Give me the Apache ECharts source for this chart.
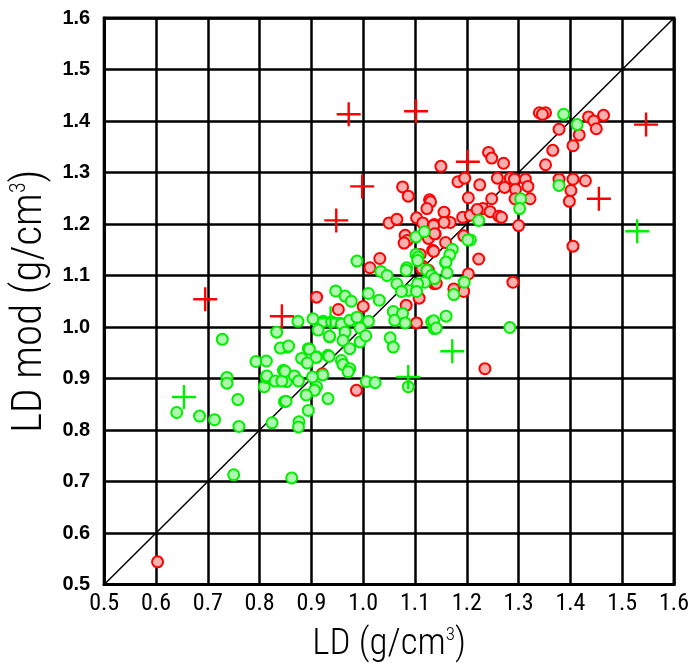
<!DOCTYPE html>
<html>
<head>
<meta charset="utf-8">
<script src="https://cdn.jsdelivr.net/npm/echarts@6/dist/echarts.min.js"></script>
<style>
  html, body { margin: 0; padding: 0; background: #fff; }
  #chart { width: 695px; height: 668px; }
</style>
</head>
<body>
<div id="chart"></div>
<script>
const AXIS_MIN = 0.5;
const AXIS_MAX = 1.6;
const TICK_STEP = 0.1;

const oneToOne = [[0.5, 0.5], [1.6, 1.6]];

const redCircles = [
    [0.603, 0.544],
    [0.910, 1.058], [0.952, 1.034], [1.000, 1.040], [0.921, 0.909], [0.987, 0.877],
    [1.013, 1.115], [1.032, 1.133],
    [1.083, 1.042], [1.108, 1.056], [1.103, 1.008], [1.115, 1.118], [1.137, 1.084],
    [1.050, 1.202], [1.065, 1.209], [1.076, 1.272], [1.087, 1.254], [1.103, 1.212],
    [1.115, 1.202], [1.137, 1.199], [1.128, 1.247], [1.130, 1.243], [1.123, 1.230],
    [1.081, 1.178], [1.085, 1.168], [1.079, 1.163], [1.126, 1.172], [1.139, 1.181],
    [1.134, 1.149], [1.110, 1.141], [1.113, 1.114], [1.126, 1.110], [1.139, 1.085],
    [1.150, 1.312], [1.183, 1.282], [1.196, 1.289], [1.225, 1.276], [1.259, 1.289],
    [1.273, 1.271], [1.284, 1.289], [1.292, 1.287], [1.313, 1.287], [1.318, 1.273],
    [1.294, 1.267], [1.293, 1.249], [1.322, 1.249],
    [1.242, 1.339], [1.248, 1.328], [1.271, 1.318],
    [1.340, 1.416], [1.352, 1.416], [1.346, 1.413], [1.435, 1.408], [1.445, 1.400],
    [1.464, 1.411], [1.450, 1.385], [1.378, 1.384], [1.417, 1.373], [1.405, 1.352],
    [1.366, 1.343], [1.352, 1.315],
    [1.378, 1.287], [1.405, 1.287], [1.429, 1.284], [1.401, 1.265], [1.398, 1.244],
    [1.203, 1.251], [1.248, 1.249], [1.231, 1.230], [1.245, 1.224], [1.262, 1.215],
    [1.267, 1.213], [1.192, 1.213], [1.207, 1.217], [1.156, 1.223], [1.168, 1.203],
    [1.156, 1.203], [1.136, 1.197], [1.138, 1.181], [1.159, 1.164], [1.194, 1.177],
    [1.136, 1.147], [1.223, 1.132], [1.300, 1.197], [1.405, 1.157], [1.220, 1.228],
    [1.203, 1.103], [1.289, 1.087], [1.194, 1.069], [1.175, 1.074], [1.141, 1.085],
    [1.235, 0.919]
];

const greenCircles = [
    [1.387, 1.413], [1.413, 1.393], [1.378, 1.275], [1.304, 1.249], [1.302, 1.230],
    [1.223, 1.207], [1.207, 1.169], [1.202, 1.169], [1.172, 1.151], [1.167, 1.140],
    [1.159, 1.125], [1.102, 1.175], [1.118, 1.185], [1.102, 1.141], [1.106, 1.136],
    [0.988, 1.128], [1.084, 1.115],
    [1.034, 1.108], [1.046, 1.100], [1.083, 1.110], [1.105, 1.129], [1.123, 1.110],
    [1.132, 1.100], [1.119, 1.087], [1.105, 1.084], [1.087, 1.071], [1.065, 1.084],
    [1.074, 1.069], [1.103, 1.069],
    [0.947, 1.070], [0.965, 1.060], [0.977, 1.050], [1.010, 1.065], [1.031, 1.052],
    [1.058, 1.030], [1.061, 1.013], [1.076, 1.026], [1.081, 1.008], [1.132, 1.010],
    [1.137, 0.997], [1.052, 0.979], [1.058, 0.961],
    [0.874, 1.011], [0.903, 1.016], [0.923, 1.011], [0.939, 1.010], [0.958, 1.006],
    [0.974, 1.013], [0.988, 1.019], [1.010, 1.011], [0.913, 0.994], [0.935, 0.981],
    [0.965, 0.990], [0.961, 0.974], [0.994, 0.998], [0.994, 0.971], [1.005, 0.983],
    [0.974, 0.958], [0.853, 0.961], [0.894, 0.958], [0.881, 0.939], [0.910, 0.942],
    [0.932, 0.945], [0.958, 0.935], [0.961, 0.927], [0.974, 0.919], [0.971, 0.913],
    [0.846, 0.916], [0.868, 0.903], [0.852, 0.894], [0.910, 0.884], [0.906, 0.877],
    [0.890, 0.868], [0.932, 0.861], [0.848, 0.855], [1.006, 0.894], [1.023, 0.892],
    [1.087, 0.884],
    [1.160, 1.126], [1.162, 1.105], [1.138, 1.094], [1.195, 1.087], [1.175, 1.063],
    [1.160, 1.021], [1.136, 1.012], [1.141, 0.998], [1.283, 0.999],
    [0.728, 0.976], [0.737, 0.902], [0.737, 0.891], [0.758, 0.859], [0.640, 0.834],
    [0.684, 0.827], [0.713, 0.820], [0.760, 0.807], [0.750, 0.713], [0.833, 0.990],
    [0.840, 0.959], [0.793, 0.933], [0.813, 0.934], [0.809, 0.884], [0.813, 0.902],
    [0.824, 0.814], [0.856, 0.963],
    [0.814, 0.905], [0.830, 0.895], [0.843, 0.895], [0.849, 0.914], [0.867, 0.905],
    [0.875, 0.895], [0.851, 0.856], [0.876, 0.816], [0.875, 0.806], [0.894, 0.838],
    [0.862, 0.707], [0.896, 0.957], [0.909, 0.941], [0.892, 0.930], [0.934, 0.943],
    [0.935, 0.982], [0.922, 0.907], [0.902, 0.903]
];

const redPlus = [
    [0.972, 1.413], [1.102, 1.419], [0.998, 1.273], [0.948, 1.207], [1.202, 1.321],
    [0.695, 1.054], [0.843, 1.021], [1.546, 1.393], [1.455, 1.249]
];

const greenPlus = [
    [1.529, 1.186], [1.172, 0.953], [1.087, 0.903], [0.654, 0.864], [0.937, 1.017]
];

const PLUS_PATH = 'path://M9,0 h2 v9 h9 v2 h-9 v9 h-2 v-9 h-9 v-2 h9 z';
const CONDENSED = "'Roboto Condensed', 'Liberation Sans', sans-serif";

function valueAxis(extra) {
    return Object.assign({
        type: 'value',
        min: AXIS_MIN,
        max: AXIS_MAX,
        interval: TICK_STEP,
        axisLine: {show: true, lineStyle: {color: '#000', width: 3}},
        axisTick: {show: false},
        splitLine: {show: true, lineStyle: {color: '#000', width: 2.5}},
    }, extra);
}

// axis title with a raised "3"
function titleStyle(size) {
    return {
        color: '#000',
        fontSize: size,
        fontWeight: 300,
        fontFamily: CONDENSED,
        rich: {
            sup: {fontSize: Math.round(size * 0.5), verticalAlign: 'top', fontWeight: 300,
                padding: [0, 0, Math.round(size * 0.5), 0], color: '#000', fontFamily: CONDENSED},
        },
    };
}

const chart = echarts.init(document.getElementById('chart'));
chart.setOption({
    backgroundColor: '#fff',
    animation: false,
    grid: {
        left: 104, right: 21, top: 18, bottom: 80,
        show: true, borderColor: '#000', borderWidth: 3,
    },
    xAxis: valueAxis({
        axisLabel: {
            color: '#000',
            fontSize: 24,
            fontFamily: CONDENSED,
            margin: 7,
            formatter: (v) => v.toFixed(1),
        },
        name: 'LD (g/cm{sup|3})',
        nameLocation: 'middle',
        nameGap: 41,
        nameTextStyle: titleStyle(37),
    }),
    yAxis: valueAxis({
        axisLabel: {
            color: '#000',
            fontSize: 20,
            fontWeight: 'bold',
            fontFamily: "'Liberation Sans', Arial, sans-serif",
            margin: 14,
            formatter: (v) => v.toFixed(1),
        },
        name: 'LD mod (g/cm{sup|3})',
        nameLocation: 'middle',
        nameGap: 47,
        nameTextStyle: titleStyle(43),
    }),
    series: [
        {
            name: '1:1',
            type: 'line',
            data: oneToOne,
            symbol: 'none',
            lineStyle: {color: '#000', width: 1.5},
            z: 1,
        },
        {
            name: 'red',
            type: 'scatter',
            data: redCircles,
            symbol: 'circle',
            symbolSize: 11,
            itemStyle: {color: '#fbb0b0', borderColor: '#ff0000', borderWidth: 2, opacity: 1},
            z: 2,
        },
        {
            name: 'green',
            type: 'scatter',
            data: greenCircles,
            symbol: 'circle',
            symbolSize: 11,
            itemStyle: {color: '#b0f8b0', borderColor: '#00ee00', borderWidth: 2, opacity: 1},
            z: 3,
        },
        {
            name: 'redPlus',
            type: 'scatter',
            data: redPlus,
            symbol: PLUS_PATH,
            symbolSize: 24,
            itemStyle: {color: '#ff0000', opacity: 1},
            z: 4,
        },
        {
            name: 'greenPlus',
            type: 'scatter',
            data: greenPlus,
            symbol: PLUS_PATH,
            symbolSize: 24,
            itemStyle: {color: '#00ee00', opacity: 1},
            z: 4,
        },
    ],
});
</script>
</body>
</html>
